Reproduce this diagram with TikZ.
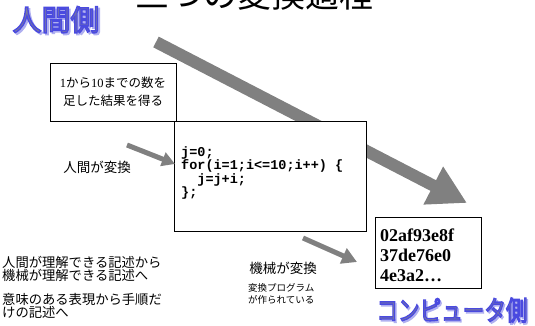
\documentclass[tikz,border=0pt]{standalone}
\usepackage{fontspec}
\usetikzlibrary{arrows.meta}
\setmainfont{Liberation Serif}
\newfontfamily\jp{Noto Sans CJK JP}
\newfontfamily\mono{Liberation Mono}
\definecolor{arrowgray}{RGB}{128,128,128}
\definecolor{fillgray}{RGB}{125,125,150}
\definecolor{shadowblue}{RGB}{175,175,240}
\newcommand\outlinedtext[1]{%
  \makebox[0pt][l]{\hspace{1.8pt}\raisebox{-1.8pt}{\color{shadowblue}\special{pdf:literal direct 2 Tr 1.4 w 0.69 0.69 0.94 RG}#1\special{pdf:literal direct 0 Tr}}}%
  {\color{fillgray}\special{pdf:literal direct 2 Tr 1.4 w 0.29 0.29 0.88 RG}#1\special{pdf:literal direct 0 Tr}}}
\tikzset{
  box/.style={draw=black, line width=0.8pt, fill=white, inner sep=0pt},
  bigarrow/.style={draw=arrowgray, line width=12pt, -{Triangle[width=40pt,length=38pt]}},
  smallarrow/.style={draw=arrowgray, line width=5pt, -{Triangle[width=14pt,length=13pt]}},
  jptext/.style={font=\jp\fontsize{13.5}{15}\selectfont, inner sep=0pt},
  sidelabel/.style={inner sep=0pt},
}
\begin{document}
\begin{tikzpicture}[x=1pt,y=1pt]
\useasboundingbox (0,0) rectangle (535,-326);
\clip (0,0) rectangle (535,-326);
% title (clipped at top)
\node[font=\jp\fontsize{34}{34}\selectfont, anchor=base, inner sep=0pt] (title) at (254,-8) {三つの変換過程};
% side labels
\node[sidelabel, font=\jp\fontsize{29}{29}\selectfont] (human) at (56,-20.5) {\outlinedtext{人間側}};
\node[sidelabel, font=\jp\fontsize{27}{27}\selectfont, xscale=0.8] (comp) at (452,-311) {\outlinedtext{コンピュータ側}};
% big arrow
\coordinate (bigstart) at (156,-42);
\coordinate (bigend) at (467,-203);
\draw[bigarrow] (bigstart) -- (bigend);
% box 1
\node[box, minimum width=126pt, minimum height=58pt, align=center,
      font=\jp\fontsize{12.5}{18}\selectfont] (goal) at (113,-92)
      {{\rmfamily 1}から{\rmfamily 10}までの数を\\足した結果を得る};
% code box
\node[box, minimum width=192pt, minimum height=110pt] (codebox) at (270,-176) {};
\node[anchor=west, align=left, inner sep=0pt,
      font=\mono\bfseries\fontsize{13.5}{13.5}\selectfont] (code) at (181,-173)
      {j=0;\\for(i=1;i<=10;i++) \{\\\ \ j=j+i;\\\};};
% machine code box
\node[box, minimum width=106pt, minimum height=71pt] (machbox) at (428,-252.5) {};
\node[anchor=west, align=left, inner sep=0pt,
      font=\rmfamily\bfseries\fontsize{18}{20}\selectfont] (mach) at (380,-255)
      {02af93e8f\\37de76e0\\4e3a2\ldots};
% small arrows
\coordinate (a1s) at (127,-145);
\coordinate (a1e) at (175,-164);
\draw[smallarrow] (a1s) -- (a1e);
\coordinate (a2s) at (303,-238);
\coordinate (a2e) at (357,-262);
\draw[smallarrow, -{Triangle[width=16pt,length=15pt]}] (a2s) -- (a2e);
% labels
\node[jptext] (humconv) at (97,-167) {人間が変換};
\node[jptext] (machconv) at (283,-268) {機械が変換};
\node[anchor=west, align=left, inner sep=0pt, font=\jp\fontsize{9.5}{12}\selectfont] (prog) at (248,-294)
      {変換プログラム\\が作られている};
\node[anchor=west, align=left, inner sep=0pt, font=\jp\fontsize{13.3}{13.5}\selectfont] (desc1) at (2,-269)
      {人間が理解できる記述から\\機械が理解できる記述へ};
\node[anchor=west, align=left, inner sep=0pt, font=\jp\fontsize{13.3}{13.5}\selectfont] (desc2) at (2,-306)
      {意味のある表現から手順だ\\けの記述へ};
\end{tikzpicture}
\end{document}
